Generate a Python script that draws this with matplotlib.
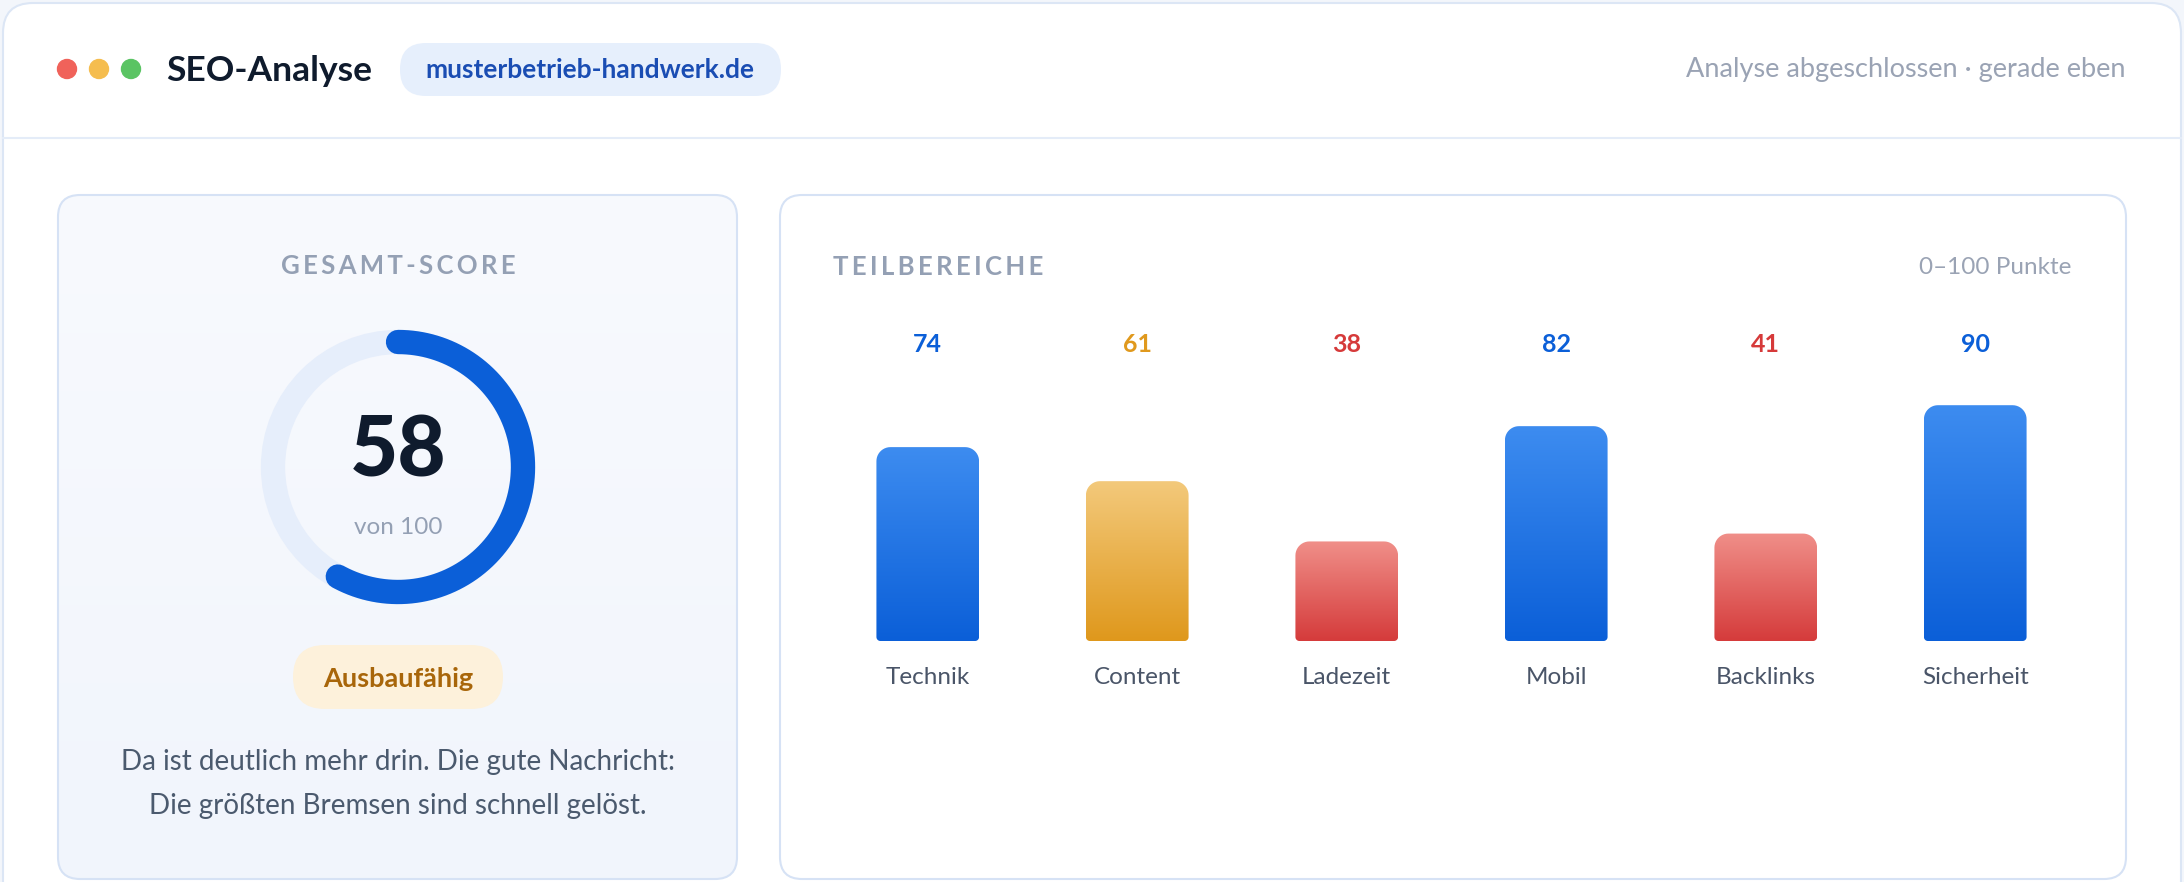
import numpy as np
import matplotlib.pyplot as plt
from matplotlib.patches import FancyBboxPatch, Circle, PathPatch
from matplotlib.path import Path
from matplotlib.colors import to_rgb
import matplotlib.transforms as mtransforms

plt.rcParams['font.family'] = ['Lato', 'DejaVu Sans']

# data
categories = ["Technik", "Content", "Ladezeit", "Mobil", "Backlinks", "Sicherheit"]
scores = [74, 61, 38, 82, 41, 90]
total_score = 58
total_max = 100
status_label = "Ausbaufähig"
domain = "musterbetrieb-handwerk.de"
title = "SEO-Analyse"
status_right = "Analyse abgeschlossen · gerade eben"
summary = "Da ist deutlich mehr drin. Die gute Nachricht:\nDie größten Bremsen sind schnell gelöst."

# colours per tier: (bar top, bar bottom, label)
tiers = {
    "good": ("#3d8cf0", "#0b5fd8", "#0b5fd8"),
    "mid": ("#f3c97b", "#df981c", "#e0991d"),
    "bad": ("#f08f89", "#d53b3b", "#d63a3a"),
}


def tier(v):
    if v >= 70:
        return "good"
    if v >= 50:
        return "mid"
    return "bad"


def spaced(s):
    return "\u2009".join(s)


def bar_path(x0, w, h, rtx, rty, rbx, rby):
    # big rounding on top corners, small rounding at the bottom
    t = np.linspace(0, np.pi / 2, 12)
    bl = [(x0 + rbx - rbx * np.cos(a), rby - rby * np.sin(a)) for a in t]
    br = [(x0 + w - rbx + rbx * np.sin(a), rby - rby * np.cos(a)) for a in t]
    tr = [(x0 + w - rtx + rtx * np.cos(a), h - rty + rty * np.sin(a)) for a in t]
    tl = [(x0 + rtx - rtx * np.sin(a), h - rty + rty * np.cos(a)) for a in t]
    pts = bl + br + tr + tl
    pts.append(pts[0])
    return Path(pts, closed=True)


W, H = 2184, 882
fig = plt.figure(figsize=(W / 100, H / 100), dpi=100)
fig.patch.set_facecolor("#f3f6fb")

# pixel canvas for the card layout
bg = fig.add_axes([0, 0, 1, 1])
bg.set_xlim(0, W)
bg.set_ylim(H, 0)
bg.axis("off")

border = "#dce6f5"
bg.add_patch(FancyBboxPatch((3, 3), W - 6, H + 40, boxstyle="round,pad=0,rounding_size=30",
                            fc="white", ec=border, lw=1.5))
bg.plot([3, W - 3], [138, 138], color="#e4ecf8", lw=1.5)

# window dots
for x, c in zip([67, 99, 131], ["#f0625a", "#f5bd4f", "#5ac463"]):
    bg.add_patch(Circle((x, 69), 9.5, color=c))
bg.text(166, 71, title, fontsize=25.5, fontweight="bold", color="#0f1b2d", va="center", ha="left")
bg.add_patch(FancyBboxPatch((400, 43), 381, 53, boxstyle="round,pad=0,rounding_size=26",
                            fc="#e6effc", ec="none"))
bg.text(590, 70, domain, fontsize=19, fontweight="bold", color="#1a4db3", va="center", ha="center")
bg.text(2126, 70, status_right, fontsize=19.5, color="#9aa3b4", va="center", ha="right")

# left card with a soft vertical gradient
card = FancyBboxPatch((58, 195), 679, 684, boxstyle="round,pad=0,rounding_size=22",
                      fc="none", ec="#d6e2f5", lw=1.5, zorder=3)
bg.add_patch(card)
card_grad = np.linspace(to_rgb("#f8fafe"), to_rgb("#f1f5fc"), 256)[:, None, :]
im = bg.imshow(card_grad, extent=(58, 737, 879, 195), aspect="auto", interpolation="bilinear",
               origin="upper", zorder=2)
im.set_clip_path(card)
bg.set_xlim(0, W)
bg.set_ylim(H, 0)

bg.text(398, 266, spaced("GESAMT-SCORE"), fontsize=18.5, fontweight="bold", color="#94a0b4",
        va="center", ha="center", zorder=4)

# score ring
cx, cy, r = 398, 467, 125
bg.add_patch(Circle((cx, cy), r, fill=False, ec="#e6eefb", lw=17.5, zorder=4))
ang = np.radians(90 - np.linspace(0, total_score / total_max * 360, 200))
bg.plot(cx + r * np.cos(ang), cy - r * np.sin(ang), color="#0b5fd8", lw=17.5,
        solid_capstyle="round", zorder=5)
bg.text(cx, 452, str(total_score), fontsize=60, fontweight="black", color="#0f1b2d",
        va="center", ha="center", zorder=5)
bg.text(cx, 527, "von " + str(total_max), fontsize=17.5, color="#94a0b4", va="center",
        ha="center", zorder=5)

bg.add_patch(FancyBboxPatch((293, 645), 210, 64, boxstyle="round,pad=0,rounding_size=32",
                            fc="#fdf1db", ec="none", zorder=4))
bg.text(398, 679, status_label, fontsize=19.5, fontweight="bold", color="#a8660a",
        va="center", ha="center", zorder=5)
bg.text(398, 784, summary, fontsize=20, color="#4b5a6e", va="center", ha="center",
        linespacing=1.9, zorder=5)

# right card
bg.add_patch(FancyBboxPatch((780, 195), 1346, 684, boxstyle="round,pad=0,rounding_size=22",
                            fc="white", ec="#d6e2f5", lw=1.5))
bg.text(833, 267, spaced("TEILBEREICHE"), fontsize=18.5, fontweight="bold", color="#94a0b4",
        va="center", ha="left")
bg.text(2071, 267, "0–100 Punkte", fontsize=17.5, color="#9aa3b4", va="center", ha="right")

# bar chart
left_px, right_px, base_px, top_px = 823, 2080, 641, 379
ax = fig.add_axes([left_px / W, (H - base_px) / H, (right_px - left_px) / W, (base_px - top_px) / H])
ax.patch.set_visible(False)
ax.axis("off")
n = len(categories)
ax.set_xlim(-0.5, n - 0.5)
ax.set_ylim(0, 100)

bar_w = 0.49
x_per_px = n / (right_px - left_px)
y_per_px = 100 / (base_px - top_px)
bars = ax.bar(range(n), scores, width=bar_w, color="none")

label_tf = mtransforms.blended_transform_factory(ax.transData, ax.transAxes)
for i, (bar, v, cat) in enumerate(zip(bars, scores, categories)):
    top_c, bot_c, txt_c = tiers[tier(v)]
    x0 = bar.get_x()
    grad = np.linspace(to_rgb(top_c), to_rgb(bot_c), 256)[:, None, :]
    clip = PathPatch(bar_path(x0, bar_w, v, 14 * x_per_px, 14 * y_per_px,
                              4 * x_per_px, 4 * y_per_px), fc="none", ec="none")
    ax.add_patch(clip)
    im = ax.imshow(grad, extent=(x0, x0 + bar_w, 0, v), aspect="auto",
                   interpolation="bilinear", origin="upper")
    im.set_clip_path(clip)
    ax.text(i, 1 + 34 / (base_px - top_px), str(v), transform=label_tf, fontsize=18,
            fontweight="bold", color=txt_c, ha="center", va="center")
    ax.text(i, -36 / (base_px - top_px), cat, transform=label_tf, fontsize=17.5,
            color="#4a5568", ha="center", va="center")

ax.set_xlim(-0.5, n - 0.5)
ax.set_ylim(0, 100)

fig.savefig("out.png", dpi=100, facecolor=fig.get_facecolor())
